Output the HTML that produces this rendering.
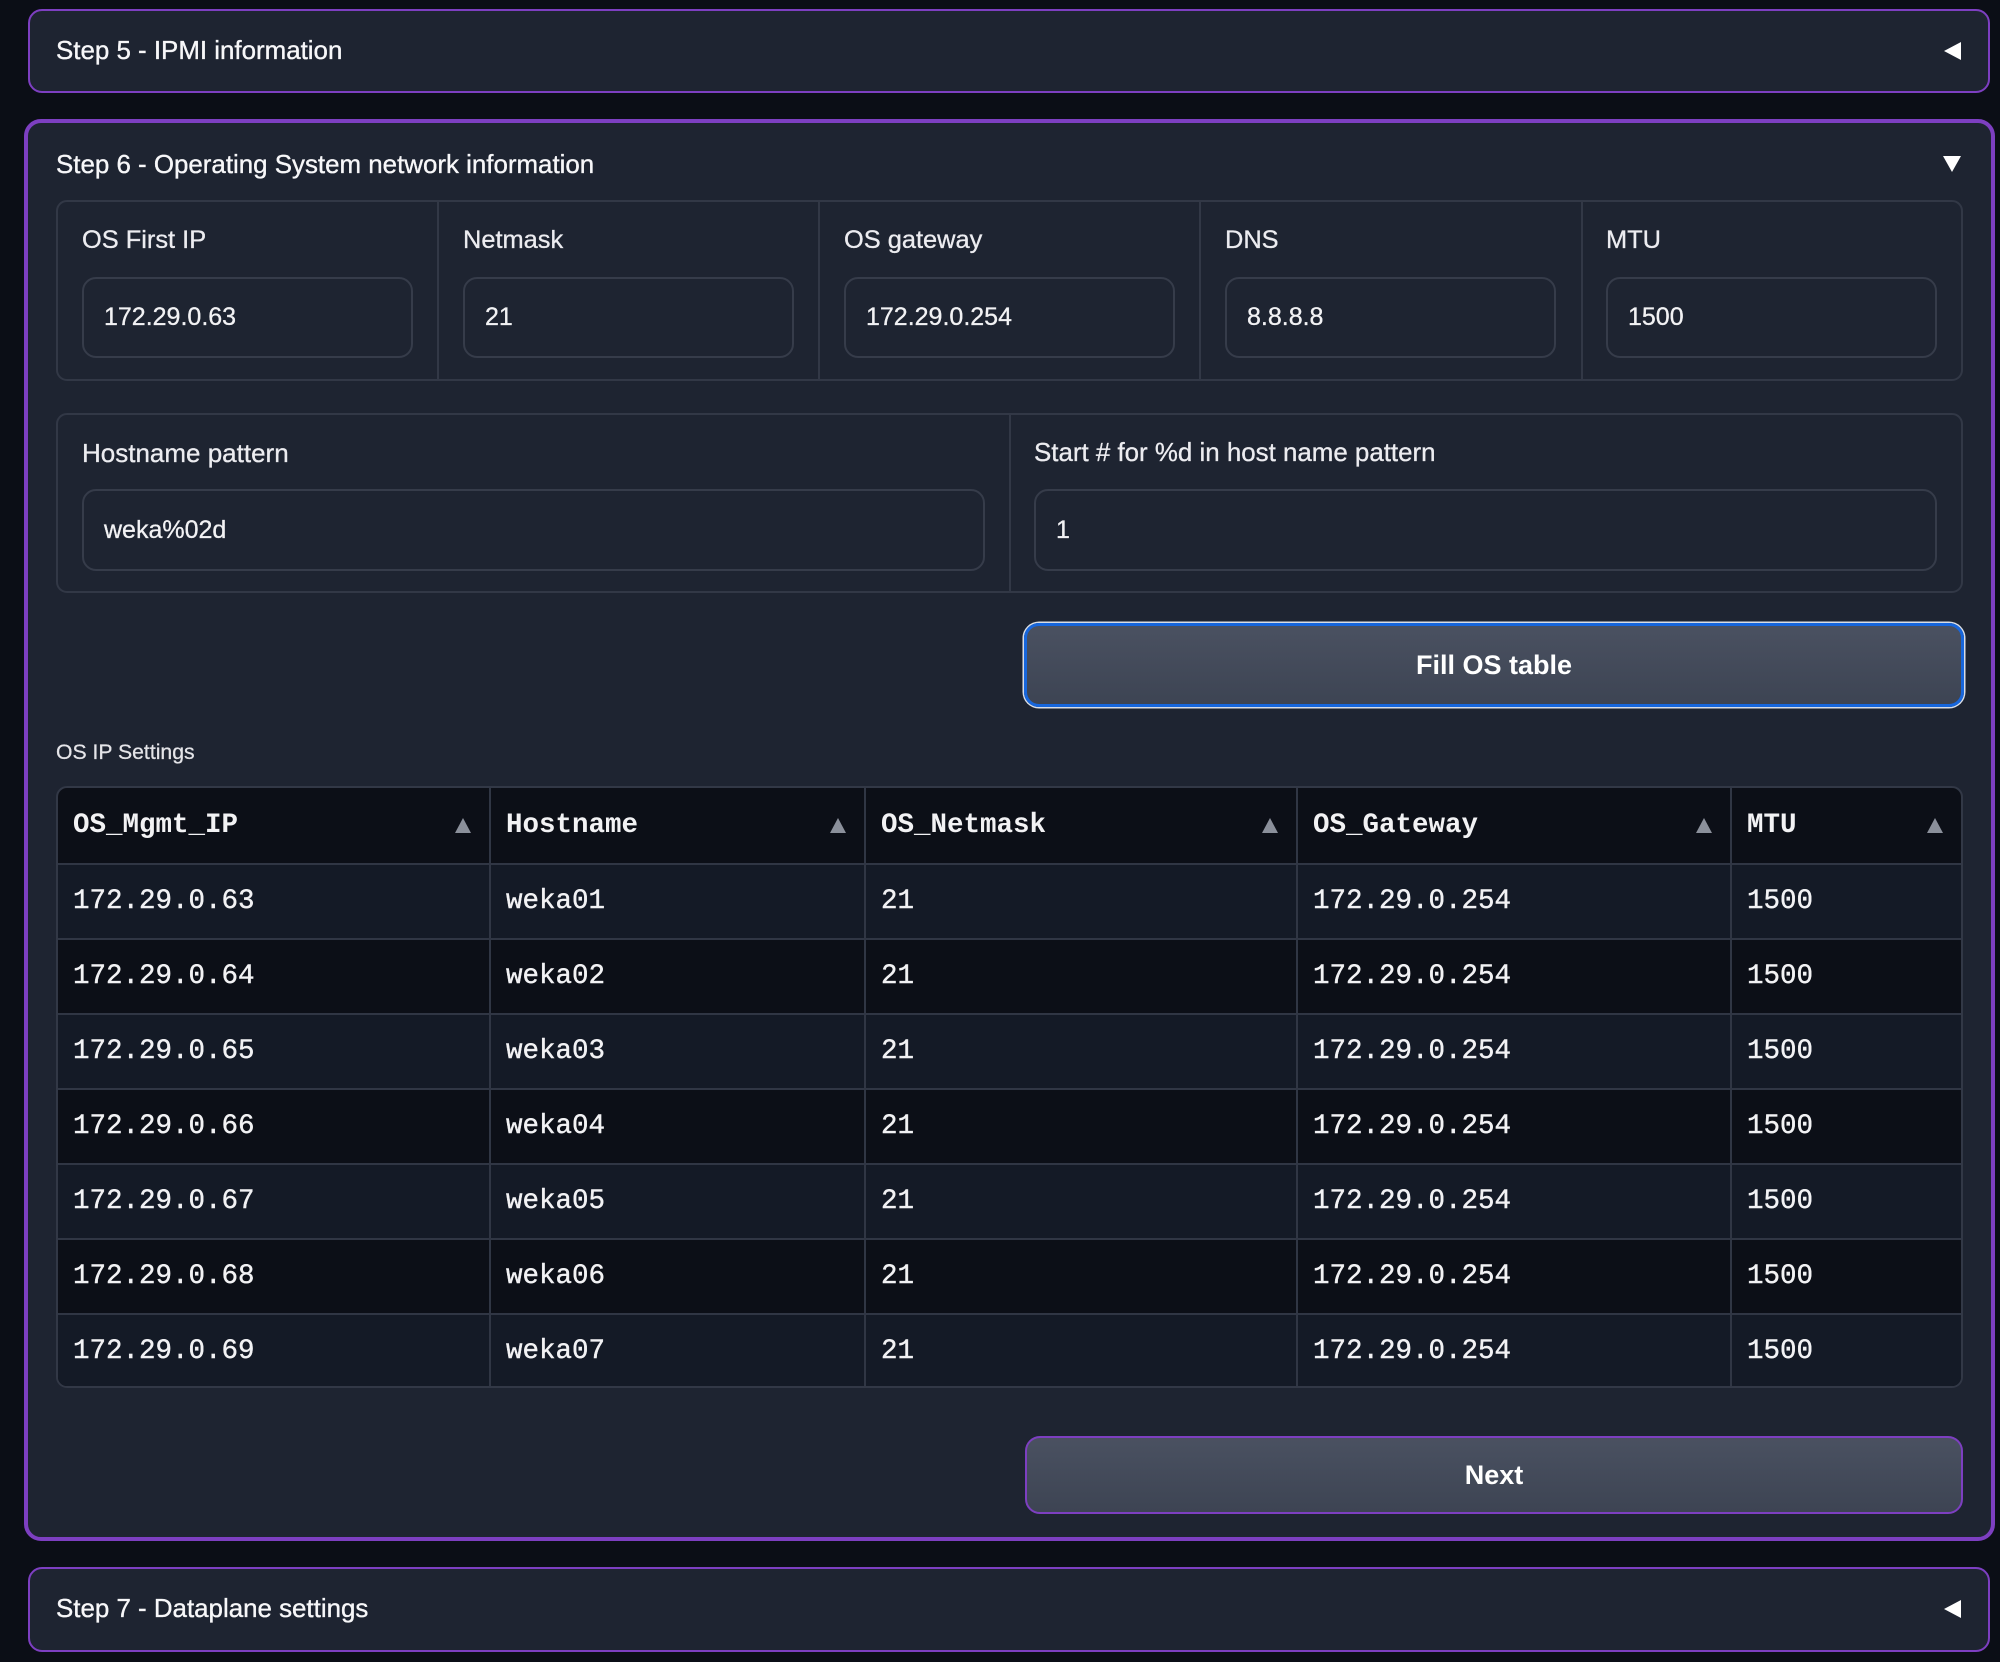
<!DOCTYPE html>
<html><head><meta charset="utf-8">
<style>
*{box-sizing:border-box;margin:0;padding:0}
html,body{width:2000px;height:1662px;background:#0b0e16;overflow:hidden}
body{position:relative;font-family:"Liberation Sans",sans-serif;color:#f4f4f6}
.abs{position:absolute}
.panel{position:absolute;background:#1e2431;border:2px solid #7d3fc1;border-radius:14px}
.title{position:absolute;left:56px;font-size:25.9px;line-height:30px;color:#f7f7f9;white-space:nowrap;-webkit-text-stroke:0.35px #f7f7f9}
.tri-left{position:absolute;width:0;height:0;border-top:9px solid transparent;border-bottom:9px solid transparent;border-right:17px solid #fff}
.tri-down{position:absolute;width:0;height:0;border-left:9px solid transparent;border-right:9px solid transparent;border-top:16px solid #fff}
.group{position:absolute;border:2px solid #323846;border-radius:11px}
.vdiv{position:absolute;width:2px;background:#323846}
.lbl{position:absolute;font-size:25.4px;line-height:30px;color:#ececf0;white-space:nowrap;-webkit-text-stroke:0.3px #ececf0}
.inp{position:absolute;border:2px solid #363c4a;border-radius:14px;font-size:25px;color:#f2f2f4;display:flex;align-items:center;padding-left:20px;white-space:nowrap;-webkit-text-stroke:0.3px #f2f2f4}
.btn{position:absolute;border-radius:15px;background:linear-gradient(180deg,#4a5161 0%,#3d4453 100%);display:flex;align-items:center;justify-content:center;font-weight:bold;font-size:27px;color:#fff}
.tbl{position:absolute;left:56px;top:786px;width:1907px;height:602px;border:2px solid #323846;border-radius:11px;overflow:hidden;background:#0c0f17;font-family:"Liberation Mono",monospace;font-size:27.5px;color:#f2f2f4}
.row{display:flex;height:75px}
.row+.row{border-top:2px solid #303644}
.row.odd{background:#141a26}
.row.even{background:#0c0f17}
.cell{position:relative;display:flex;align-items:center;padding-left:15px;white-space:nowrap;height:100%;-webkit-text-stroke:0.4px #f2f2f4}
.cell+.cell{border-left:2px solid #303644;padding-left:15px}
.hdr .cell{font-weight:bold;-webkit-text-stroke:0}
.c1{width:431px}.c2{width:375px}.c3{width:432px}.c4{width:434px}.c5{width:231px}
.sort{position:absolute;right:18px;top:30px;width:0;height:0;border-left:8.5px solid transparent;border-right:8.5px solid transparent;border-bottom:15px solid #8b909b}
</style></head>
<body>

<!-- Step 5 -->
<div class="panel" style="left:28px;top:9px;width:1962px;height:84px;"></div>
<div class="title" style="top:36px;">Step 5 - IPMI information</div>
<div class="tri-left" style="left:1944px;top:42px;"></div>

<!-- Step 6 -->
<div class="panel" style="left:24px;top:119px;width:1971px;height:1422px;border-width:4px;border-radius:17px;"></div>
<div class="title" style="top:150px;">Step 6 - Operating System network information</div>
<div class="tri-down" style="left:1943px;top:156px;"></div>

<!-- group 1 -->
<div class="group" style="left:56px;top:200px;width:1907px;height:181px;"></div>
<div class="vdiv" style="left:437px;top:201px;height:179px;"></div>
<div class="vdiv" style="left:818px;top:201px;height:179px;"></div>
<div class="vdiv" style="left:1199px;top:201px;height:179px;"></div>
<div class="vdiv" style="left:1581px;top:201px;height:179px;"></div>

<div class="lbl" style="left:82px;top:225px;">OS First IP</div>
<div class="lbl" style="left:463px;top:225px;">Netmask</div>
<div class="lbl" style="left:844px;top:225px;">OS gateway</div>
<div class="lbl" style="left:1225px;top:225px;">DNS</div>
<div class="lbl" style="left:1606px;top:225px;">MTU</div>

<div class="inp" style="left:82px;top:277px;width:331px;height:81px;">172.29.0.63</div>
<div class="inp" style="left:463px;top:277px;width:331px;height:81px;">21</div>
<div class="inp" style="left:844px;top:277px;width:331px;height:81px;">172.29.0.254</div>
<div class="inp" style="left:1225px;top:277px;width:331px;height:81px;">8.8.8.8</div>
<div class="inp" style="left:1606px;top:277px;width:331px;height:81px;">1500</div>

<!-- group 2 -->
<div class="group" style="left:56px;top:413px;width:1907px;height:180px;"></div>
<div class="vdiv" style="left:1009px;top:414px;height:178px;"></div>
<div class="lbl" style="left:82px;top:438px;font-size:26px;">Hostname pattern</div>
<div class="lbl" style="left:1034px;top:438px;font-size:25.9px;">Start # for %d in host name pattern</div>
<div class="inp" style="left:82px;top:489px;width:903px;height:82px;">weka%02d</div>
<div class="inp" style="left:1034px;top:489px;width:903px;height:82px;">1</div>

<!-- Fill button -->
<div class="btn" style="left:1024px;top:623px;width:940px;height:84px;border:3px solid #1766dc;box-shadow:0 0 0 1.5px #d8dde6;">Fill OS table</div>

<div class="abs" style="left:56px;top:740px;font-size:21.2px;line-height:26px;color:#e4e4e8;-webkit-text-stroke:0.25px #e4e4e8;">OS IP Settings</div>

<!-- Table -->
<div class="tbl">
  <div class="row hdr">
    <div class="cell c1">OS_Mgmt_IP<span class="sort"></span></div>
    <div class="cell c2">Hostname<span class="sort"></span></div>
    <div class="cell c3">OS_Netmask<span class="sort"></span></div>
    <div class="cell c4">OS_Gateway<span class="sort"></span></div>
    <div class="cell c5">MTU<span class="sort"></span></div>
  </div>
  <div class="row odd"><div class="cell c1">172.29.0.63</div><div class="cell c2">weka01</div><div class="cell c3">21</div><div class="cell c4">172.29.0.254</div><div class="cell c5">1500</div></div>
  <div class="row even"><div class="cell c1">172.29.0.64</div><div class="cell c2">weka02</div><div class="cell c3">21</div><div class="cell c4">172.29.0.254</div><div class="cell c5">1500</div></div>
  <div class="row odd"><div class="cell c1">172.29.0.65</div><div class="cell c2">weka03</div><div class="cell c3">21</div><div class="cell c4">172.29.0.254</div><div class="cell c5">1500</div></div>
  <div class="row even"><div class="cell c1">172.29.0.66</div><div class="cell c2">weka04</div><div class="cell c3">21</div><div class="cell c4">172.29.0.254</div><div class="cell c5">1500</div></div>
  <div class="row odd"><div class="cell c1">172.29.0.67</div><div class="cell c2">weka05</div><div class="cell c3">21</div><div class="cell c4">172.29.0.254</div><div class="cell c5">1500</div></div>
  <div class="row even"><div class="cell c1">172.29.0.68</div><div class="cell c2">weka06</div><div class="cell c3">21</div><div class="cell c4">172.29.0.254</div><div class="cell c5">1500</div></div>
  <div class="row odd"><div class="cell c1">172.29.0.69</div><div class="cell c2">weka07</div><div class="cell c3">21</div><div class="cell c4">172.29.0.254</div><div class="cell c5">1500</div></div>
</div>

<!-- Next button -->
<div class="btn" style="left:1025px;top:1436px;width:938px;height:78px;border:2px solid #7d3fc1;">Next</div>

<!-- Step 7 -->
<div class="panel" style="left:28px;top:1567px;width:1962px;height:85px;"></div>
<div class="title" style="top:1594px;">Step 7 - Dataplane settings</div>
<div class="tri-left" style="left:1944px;top:1600px;"></div>

</body></html>
